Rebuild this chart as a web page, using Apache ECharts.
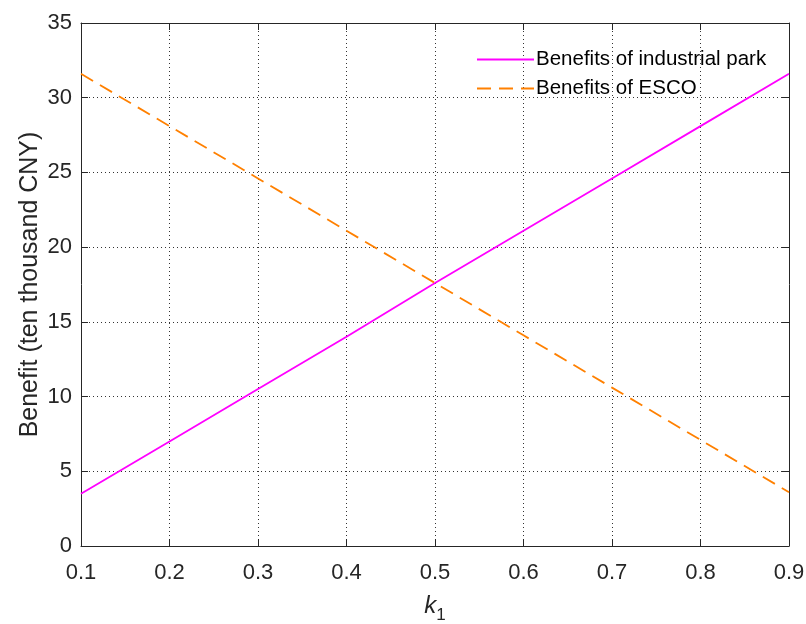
<!DOCTYPE html>
<html>
<head>
<meta charset="utf-8">
<script src="https://cdn.jsdelivr.net/npm/echarts@6/dist/echarts.min.js"></script>
<style>html,body{margin:0;padding:0;background:#fff}#c{width:806px;height:624px}</style>
</head>
<body>
<div id="c"></div>
<script>
const k1Values = [0.1, 0.2, 0.3, 0.4, 0.5, 0.6, 0.7, 0.8, 0.9];
const parkBenefits = [3.5, 7.0, 10.5, 14.0, 17.6, 21.1, 24.6, 28.1, 31.6];
const escoBenefits = [31.6, 28.1, 24.6, 21.1, 17.6, 14.1, 10.6, 7.1, 3.6];
const seriesNames = ['Benefits of industrial park', 'Benefits of ESCO'];
const xTicks = [0.1, 0.2, 0.3, 0.4, 0.5, 0.6, 0.7, 0.8, 0.9];
const yTicks = [0, 5, 10, 15, 20, 25, 30, 35];

const FONT = 'Liberation Sans, Arial, sans-serif';
const AX = '#262626';
const chart = echarts.init(document.getElementById('c'), null, {renderer: 'canvas'});
const gridLine = {show: true, lineStyle: {color: '#333', width: 1, type: [1, 3]}};
const mkPairs = (xs, ys) => xs.map((x, i) => [x, ys[i]]);

chart.setOption({
  animation: false,
  backgroundColor: '#fff',
  grid: {left: 81, top: 23, width: 708, height: 523, containLabel: false, outerBoundsMode: 'none'},
  legend: {
    orient: 'vertical', left: 471, top: 44,
    itemWidth: 57, itemHeight: 14, itemGap: 8,
    itemStyle: {opacity: 0},
    textStyle: {fontFamily: FONT, fontSize: 20.5, color: '#000', padding: [0, 0, 0, -3]},
    data: seriesNames
  },
  xAxis: [{
    type: 'value', min: 0.1, max: 0.9, interval: 0.1,
    name: '{k|k}{s|1}', nameLocation: 'middle', nameGap: 42, nameMoveOverlap: false,
    nameTextStyle: {
      rich: {
        k: {fontFamily: FONT, fontSize: 24, fontStyle: 'italic', color: AX, lineHeight: 36, verticalAlign: 'middle'},
        s: {fontFamily: FONT, fontSize: 17, color: AX, lineHeight: 17, verticalAlign: 'bottom'}
      }
    },
    axisLine: {show: true, onZero: false, lineStyle: {color: AX, width: 1}},
    axisTick: {show: true, inside: true, length: 7, lineStyle: {color: AX}},
    axisLabel: {fontFamily: FONT, fontSize: 22, color: AX, margin: 16,
      formatter: v => xTicks.find(t => Math.abs(t - v) < 1e-9).toFixed(1)},
    splitLine: gridLine
  }, {
    type: 'value', position: 'top', min: 0.1, max: 0.9, interval: 0.1,
    axisLine: {show: true, onZero: false, lineStyle: {color: AX, width: 1}},
    axisTick: {show: true, inside: true, length: 7, lineStyle: {color: AX}},
    axisLabel: {show: false}, splitLine: {show: false}
  }],
  yAxis: [{
    type: 'value', min: 0, max: 35, interval: 5,
    name: 'Benefit (ten thousand CNY)', nameLocation: 'middle', nameGap: 38, nameMoveOverlap: false,
    nameTextStyle: {fontFamily: FONT, fontSize: 25, color: AX},
    axisLine: {show: true, onZero: false, lineStyle: {color: AX, width: 1}},
    axisTick: {show: true, inside: true, length: 7, lineStyle: {color: AX}},
    axisLabel: {fontFamily: FONT, fontSize: 22, color: AX, margin: 9,
      formatter: v => String(yTicks.find(t => Math.abs(t - v) < 1e-9))},
    splitLine: gridLine
  }, {
    type: 'value', position: 'right', min: 0, max: 35, interval: 5,
    axisLine: {show: true, onZero: false, lineStyle: {color: AX, width: 1}},
    axisTick: {show: true, inside: true, length: 7, lineStyle: {color: AX}},
    axisLabel: {show: false}, splitLine: {show: false}
  }],
  series: [{
    name: seriesNames[0], type: 'line', symbol: 'none',
    data: mkPairs(k1Values, parkBenefits),
    lineStyle: {color: '#ff00ff', width: 1.8, type: 'solid'},
    itemStyle: {color: '#ff00ff'}
  }, {
    name: seriesNames[1], type: 'line', symbol: 'none',
    data: mkPairs(k1Values, escoBenefits),
    lineStyle: {color: '#ff8000', width: 1.8, type: [14, 8]},
    itemStyle: {color: '#ff8000'}
  }]
});
</script>
</body>
</html>
